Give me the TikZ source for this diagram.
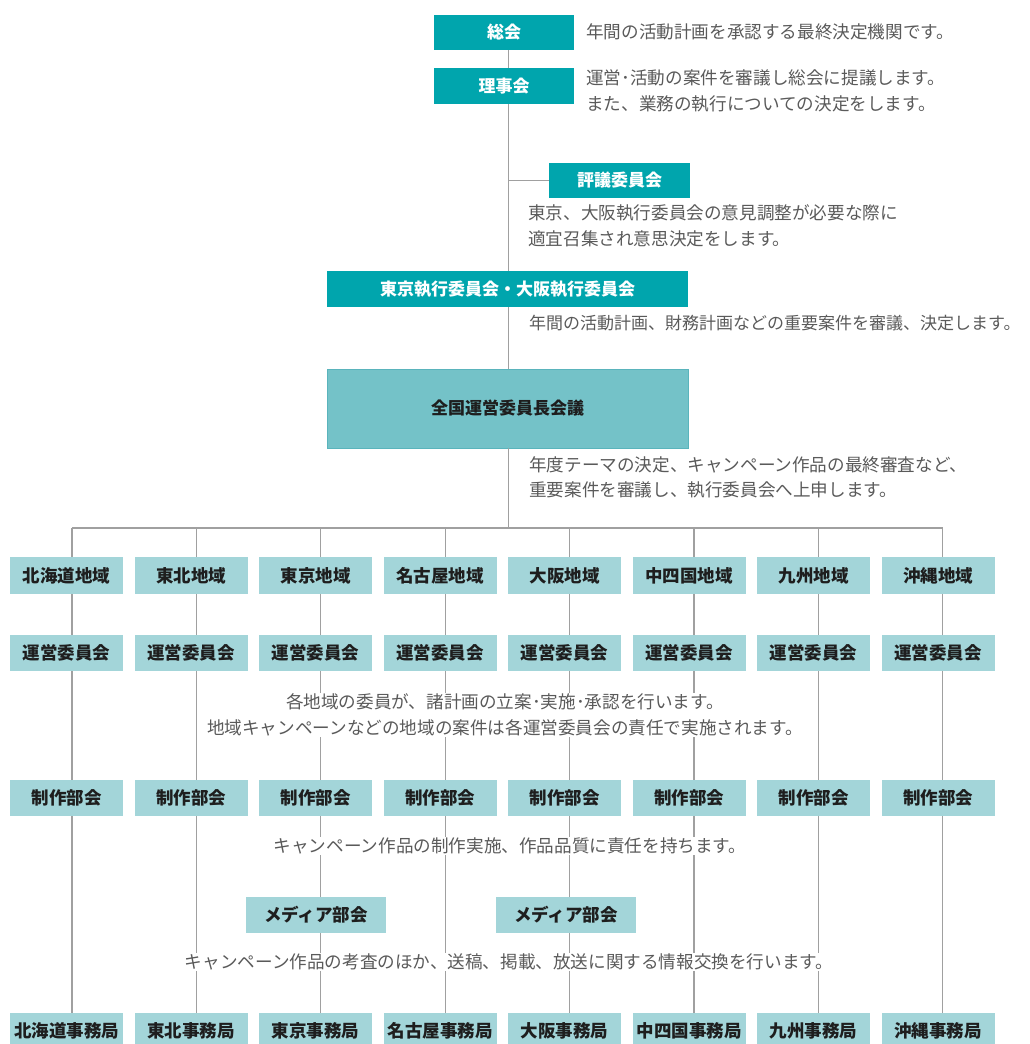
\documentclass[tikz,border=0pt]{standalone}
\usepackage{fontspec}
\newfontfamily\jp{Noto Sans CJK JP}
\definecolor{dteal}{HTML}{00A5AD}
\definecolor{lteal}{HTML}{A3D5D9}
\definecolor{mteal}{HTML}{74C2C8}
\definecolor{mborder}{HTML}{5AB4BC}
\definecolor{lncol}{HTML}{A0A0A0}
\definecolor{txtgray}{HTML}{5A5A5A}
\definecolor{boxtxt}{HTML}{1E1E1E}
\tikzset{
  darkbox/.style={fill=dteal, text=white, inner sep=0pt, minimum height=36pt,
    font=\jp\bfseries\fontsize{17}{17}\selectfont},
  lightbox/.style={fill=lteal, text=boxtxt, inner sep=0pt, minimum width=113pt, minimum height=37pt,
    font=\jp\bfseries\fontsize{17.5}{17.5}\selectfont},
  midbox/.style={fill=mteal, draw=mborder, line width=0.8pt, text=boxtxt, inner sep=0pt,
    font=\jp\bfseries\fontsize{17}{17}\selectfont},
  desc/.style={text=txtgray, inner sep=0pt, align=left, anchor=west,
    font=\jp\fontsize{17.6}{25.5}\selectfont},
  cdesc/.style={text=txtgray, fill=white, inner xsep=3pt, inner ysep=1pt, align=center,
    font=\jp\fontsize{17.6}{25.5}\selectfont},
  ln/.style={draw=lncol, line width=1.3pt}
}
\begin{document}
\begin{tikzpicture}[x=1pt,y=-1pt]
\useasboundingbox[fill=white] (0,0) rectangle (1030,1044);
\coordinate (sp) at (508.5,0);

% top chain
\node[darkbox, minimum width=140pt, minimum height=35pt] (soukai) at (504,32.5) {総会};
\node[darkbox, minimum width=140pt] (riji) at (504,86) {理事会};
\node[darkbox, minimum width=141pt, minimum height=35pt] (hyogi) at (619.5,180.5) {評議委員会};
\node[darkbox, minimum width=361pt] (shikko) at (507.5,289) {東京執行委員会・大阪執行委員会};
\node[midbox, minimum width=361pt, minimum height=79pt] (zenkoku) at (507.5,408.5) {全国運営委員長会議};

% descriptions
\node[desc] (d1) at (586,32) {年間の活動計画を承認する最終決定機関です。};
\node[desc] (d2) at (586,91) {運営･活動の案件を審議し総会に提議します。\\また、業務の執行についての決定をします。};
\node[desc] (d3) at (528,226) {東京、大阪執行委員会の意見調整が必要な際に\\適宜召集され意思決定をします。};
\node[desc, font=\jp\fontsize{17}{25.5}\selectfont] (d4) at (529,323) {年間の活動計画、財務計画などの重要案件を審議、決定します。};
\node[desc] (d5) at (529,477.5) {年度テーマの決定、キャンペーン作品の最終審査など、\\重要案件を審議し、執行委員会へ上申します。};

% columns
\foreach \i/\reg/\off in {0/北海道地域/北海道事務局,1/東北地域/東北事務局,2/東京地域/東京事務局,3/名古屋地域/名古屋事務局,
  4/大阪地域/大阪事務局,5/中四国地域/中四国事務局,6/九州地域/九州事務局,7/沖縄地域/沖縄事務局}{
  \pgfmathsetmacro{\cx}{66.5+124.5*\i}
  \pgfmathsetmacro{\lx}{72+124.4*\i}
  \coordinate (bus\i) at (\lx,528);
  \node[lightbox] (reg\i) at (\cx,575.5) {\reg};
  \node[lightbox, minimum height=36pt] (un\i) at (\cx,653) {運営委員会};
  \node[lightbox, minimum height=36pt] (sei\i) at (\cx,798) {制作部会};
  \node[lightbox, minimum height=36pt] (jim\i) at (\cx,1031) {\off};
}
\node[lightbox, minimum width=140pt, minimum height=36pt] (med2) at (316,915) {メディア部会};
\node[lightbox, minimum width=140pt, minimum height=36pt] (med4) at (566,915) {メディア部会};

% connectors
\draw[ln] (soukai.south -| sp) -- (riji.north -| sp);
\draw[ln] (riji.south -| sp) -- (shikko.north -| sp);
\draw[ln] (sp |- hyogi.west) -- (hyogi.west);
\draw[ln] (shikko.south -| sp) -- (zenkoku.north -| sp);
\draw[ln] (zenkoku.south -| sp) -- (sp |- bus0);
\draw[ln] (bus0) -- (bus7);
\foreach \i in {0,...,7}{
  \draw[ln] (bus\i) -- (reg\i.north -| bus\i);
  \draw[ln] (reg\i.south -| bus\i) -- (un\i.north -| bus\i);
  \draw[ln] (un\i.south -| bus\i) -- (sei\i.north -| bus\i);
}
\foreach \i in {0,1,3,5,6,7}{
  \draw[ln] (sei\i.south -| bus\i) -- (jim\i.north -| bus\i);
}
\foreach \i in {2,4}{
  \draw[ln] (sei\i.south -| bus\i) -- (med\i.north -| bus\i);
  \draw[ln] (med\i.south -| bus\i) -- (jim\i.north -| bus\i);
}

% centred descriptions over the column lines
\node[cdesc] (d6) at (505,715) {各地域の委員が、諸計画の立案･実施･承認を行います。\\地域キャンペーンなどの地域の案件は各運営委員会の責任で実施されます。};
\node[cdesc] (d7) at (510,846) {キャンペーン作品の制作実施、作品品質に責任を持ちます。};
\node[cdesc] (d8) at (509,962) {キャンペーン作品の考査のほか、送稿、掲載、放送に関する情報交換を行います。};
\end{tikzpicture}
\end{document}
